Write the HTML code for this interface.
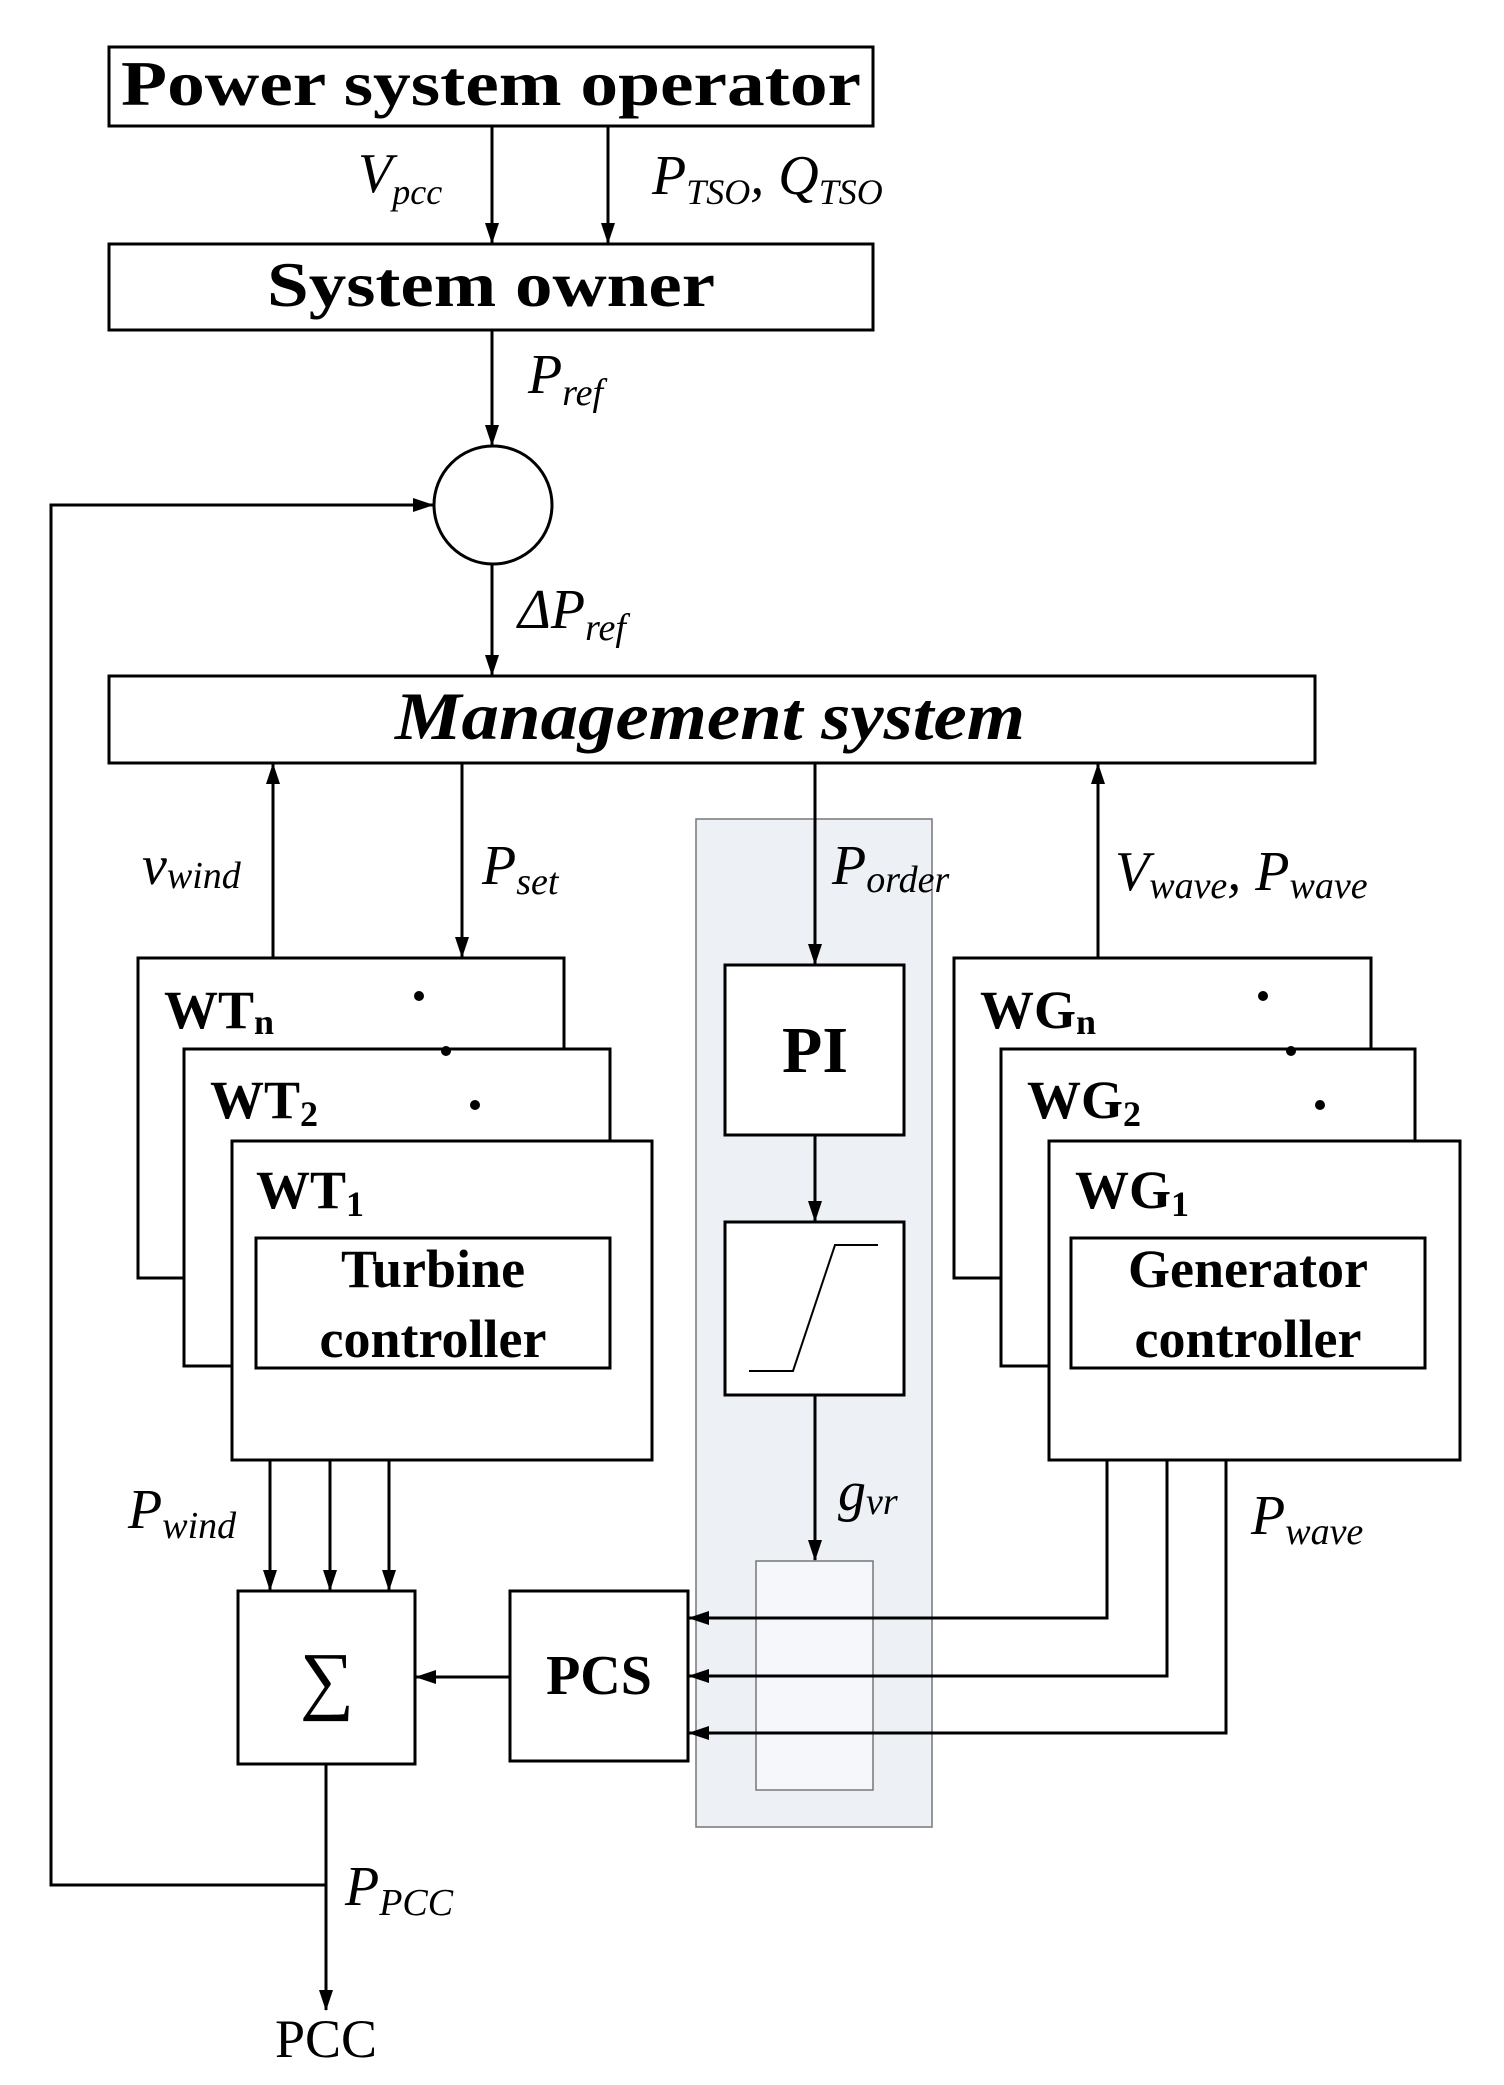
<!DOCTYPE html>
<html><head><meta charset="utf-8"><style>
html,body{margin:0;padding:0;background:#fff;}
svg{display:block;}
text{font-family:"Liberation Serif","Times New Roman",serif;fill:#000;}
.b{font-weight:bold;}
.i{font-style:italic;}
</style></head><body>
<svg width="1504" height="2085" viewBox="0 0 1504 2085" xmlns="http://www.w3.org/2000/svg">
<defs>
<marker id="a" markerWidth="22" markerHeight="16" refX="20" refY="7" orient="auto" markerUnits="userSpaceOnUse" viewBox="0 0 22 16">
<path d="M0,0 L21,7 L0,14 z" fill="#000"/>
</marker>
</defs>
<g stroke="#000" stroke-width="3" fill="none">
<rect x="696" y="819" width="236" height="1008" fill="#edf0f5" stroke="#777" stroke-width="1.5"/>
<rect x="756" y="1561" width="117" height="229" fill="#f6f7fa" stroke="#777" stroke-width="1.5"/>

<rect x="109" y="47" width="764" height="79" fill="#fff"/>
<rect x="109" y="244" width="764" height="86" fill="#fff"/>
<ellipse cx="493" cy="505" rx="59" ry="59" fill="#fff"/>
<rect x="109" y="676" width="1206" height="87" fill="#fff"/>

<line x1="492" y1="126" x2="492" y2="243" marker-end="url(#a)"/>
<line x1="608" y1="126" x2="608" y2="243" marker-end="url(#a)"/>
<line x1="492" y1="330" x2="492" y2="445" marker-end="url(#a)"/>
<line x1="492" y1="564" x2="492" y2="675" marker-end="url(#a)"/>
<polyline points="326,1885 51,1885 51,505 433,505" marker-end="url(#a)"/>

<line x1="273" y1="958" x2="273" y2="764" marker-end="url(#a)"/>
<line x1="462" y1="763" x2="462" y2="957" marker-end="url(#a)"/>
<line x1="815" y1="763" x2="815" y2="964" marker-end="url(#a)"/>
<line x1="1098" y1="958" x2="1098" y2="764" marker-end="url(#a)"/>

<rect x="138" y="958" width="426" height="320" fill="#fff"/>
<rect x="184" y="1049" width="426" height="317" fill="#fff"/>
<rect x="232" y="1141" width="420" height="319" fill="#fff"/>
<rect x="256" y="1238" width="354" height="130" fill="#fff"/>
<rect x="954" y="958" width="417" height="320" fill="#fff"/>
<rect x="1001" y="1049" width="414" height="317" fill="#fff"/>
<rect x="1049" y="1141" width="411" height="319" fill="#fff"/>
<rect x="1071" y="1238" width="354" height="130" fill="#fff"/>

<rect x="725" y="965" width="179" height="170" fill="#fff"/>
<line x1="815" y1="1135" x2="815" y2="1221" marker-end="url(#a)"/>
<rect x="725" y="1222" width="179" height="173" fill="#fff"/>
<polyline points="749,1371 793,1371 835,1245 878,1245" stroke-width="2"/>
<line x1="815" y1="1395" x2="815" y2="1560" marker-end="url(#a)"/>

<line x1="270" y1="1460" x2="270" y2="1590" marker-end="url(#a)"/>
<line x1="330" y1="1460" x2="330" y2="1590" marker-end="url(#a)"/>
<line x1="389" y1="1460" x2="389" y2="1590" marker-end="url(#a)"/>
<rect x="238" y="1591" width="177" height="173" fill="#fff"/>
<rect x="510" y="1591" width="178" height="170" fill="#fff"/>
<line x1="510" y1="1677" x2="416" y2="1677" marker-end="url(#a)"/>
<polyline points="1107,1460 1107,1618 689,1618" marker-end="url(#a)"/>
<polyline points="1167,1460 1167,1676 689,1676" marker-end="url(#a)"/>
<polyline points="1226,1460 1226,1733 689,1733" marker-end="url(#a)"/>
<line x1="326" y1="1764" x2="326" y2="2010" marker-end="url(#a)"/>
</g>
<g fill="#000">
<circle cx="419" cy="996" r="5"/><circle cx="446" cy="1051" r="5"/><circle cx="475" cy="1105" r="5"/>
<circle cx="1263" cy="996" r="5"/><circle cx="1291" cy="1051" r="5"/><circle cx="1320" cy="1105" r="5"/>
</g>

<text class="b" x="491" y="105" font-size="64" text-anchor="middle" textLength="740" lengthAdjust="spacingAndGlyphs">Power system operator</text>
<text class="b" x="491" y="306" font-size="64" text-anchor="middle" textLength="448" lengthAdjust="spacingAndGlyphs">System owner</text>
<text class="b i" x="710" y="739" font-size="68" text-anchor="middle" textLength="630" lengthAdjust="spacingAndGlyphs">Management system</text>

<text class="i" x="358" y="192" font-size="56">V<tspan font-size="36" dy="12">pcc</tspan></text>
<text class="i" x="652" y="194" font-size="56">P<tspan font-size="36" dy="10">TSO</tspan><tspan dy="-10">, Q</tspan><tspan font-size="36" dy="10">TSO</tspan></text>
<text class="i" x="528" y="393" font-size="56">P<tspan font-size="38" dy="12">ref</tspan></text>
<text class="i" x="518" y="628" font-size="56">ΔP<tspan font-size="38" dy="12">ref</tspan></text>
<text class="i" x="142" y="884" font-size="56">v<tspan font-size="38" dy="4">wind</tspan></text>
<text class="i" x="482" y="884" font-size="56">P<tspan font-size="38" dy="10">set</tspan></text>
<text class="i" x="832" y="884" font-size="56">P<tspan font-size="38" dy="8">order</tspan></text>
<text class="i" x="1115" y="890" font-size="56">V<tspan font-size="38" dy="8">wave</tspan><tspan dy="-8">, P</tspan><tspan font-size="38" dy="8">wave</tspan></text>

<text class="b" x="164" y="1028" font-size="54">WT<tspan font-size="36" dy="6">n</tspan></text>
<text class="b" x="210" y="1118" font-size="54">WT<tspan font-size="36" dy="8">2</tspan></text>
<text class="b" x="256" y="1208" font-size="54">WT<tspan font-size="36" dy="8">1</tspan></text>
<text class="b" x="433" y="1287" font-size="54" text-anchor="middle">Turbine</text>
<text class="b" x="433" y="1357" font-size="54" text-anchor="middle">controller</text>
<text class="b" x="980" y="1028" font-size="54">WG<tspan font-size="36" dy="6">n</tspan></text>
<text class="b" x="1027" y="1118" font-size="54">WG<tspan font-size="36" dy="8">2</tspan></text>
<text class="b" x="1075" y="1208" font-size="54">WG<tspan font-size="36" dy="8">1</tspan></text>
<text class="b" x="1248" y="1287" font-size="54" text-anchor="middle">Generator</text>
<text class="b" x="1248" y="1357" font-size="54" text-anchor="middle">controller</text>

<text class="b" x="815" y="1072" font-size="66" text-anchor="middle">PI</text>
<text class="i" x="838" y="1510" font-size="56">g<tspan font-size="38" dy="4">vr</tspan></text>
<text class="i" x="128" y="1528" font-size="56">P<tspan font-size="38" dy="10">wind</tspan></text>
<text class="i" x="1251" y="1534" font-size="56">P<tspan font-size="38" dy="10">wave</tspan></text>
<text x="327" y="1705" font-size="76" text-anchor="middle">∑</text>
<text class="b" x="599" y="1694" font-size="56" text-anchor="middle">PCS</text>
<text class="i" x="345" y="1905" font-size="56">P<tspan font-size="38" dy="10">PCC</tspan></text>
<text x="326" y="2057" font-size="54" text-anchor="middle">PCC</text>
</svg>
</body></html>
